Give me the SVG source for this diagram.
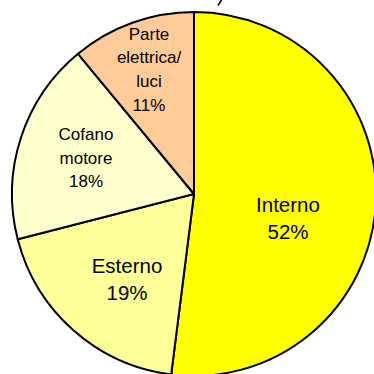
<svg xmlns="http://www.w3.org/2000/svg" width="374" height="374" viewBox="0 0 374 374">
<style>
.slice{stroke:#000;stroke-width:2;stroke-linejoin:round}
.lbl{font-family:"Liberation Sans",Arial,sans-serif;fill:#000;text-anchor:middle}
.big{font-size:20.5px}
.small{font-size:17px}
</style>
<rect width="374" height="374" fill="#fff"/>
<g id="interno">
<path class="slice" fill="#FFFF00" d="M194,194 L194,12 A182,182 0 1 1 171.19,374.56 Z"/>
<text class="lbl big" x="288" y="212">Interno</text>
<text class="lbl big" x="288" y="239">52%</text>
</g>
<g id="esterno">
<path class="slice" fill="#FFFF99" d="M194,194 L171.19,374.56 A182,182 0 0 1 17.72,239.26 Z"/>
<text class="lbl big" x="127" y="273">Esterno</text>
<text class="lbl big" x="127" y="300">19%</text>
</g>
<g id="cofano">
<path class="slice" fill="#FFFFCC" d="M194,194 L17.72,239.26 A182,182 0 0 1 77.99,53.77 Z"/>
<text class="lbl small" x="86" y="140">Cofano</text>
<text class="lbl small" x="86" y="163.5">motore</text>
<text class="lbl small" x="86" y="187">18%</text>
</g>
<g id="parte">
<path class="slice" fill="#FFCC99" d="M194,194 L77.99,53.77 A182,182 0 0 1 194,12 Z"/>
<text class="lbl small" x="149" y="39.5">Parte</text>
<text class="lbl small" x="149" y="63">elettrica/</text>
<text class="lbl small" x="149" y="87">luci</text>
<text class="lbl small" x="149" y="110.5">11%</text>
</g>
<g id="connectors">
<line x1="221.5" y1="0" x2="218" y2="5.5" stroke="#000" stroke-width="1.5"/>
</g>
</svg>
